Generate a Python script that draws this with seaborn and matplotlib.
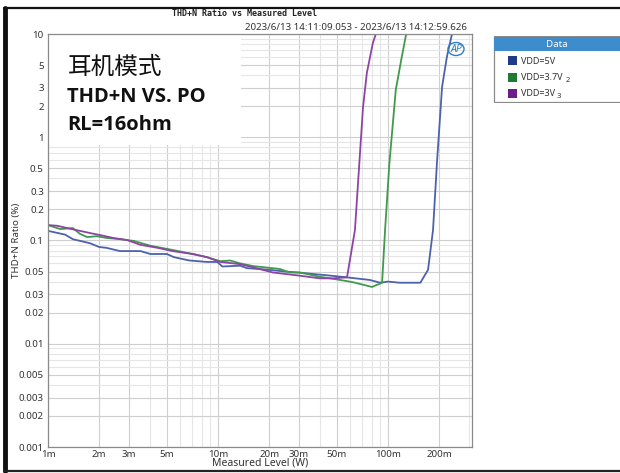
import numpy as np
import pandas as pd
import matplotlib
matplotlib.use("Agg")
import matplotlib.pyplot as plt
from matplotlib.patches import Rectangle, Ellipse
from matplotlib.lines import Line2D
from matplotlib.ticker import FixedLocator, LogLocator, NullFormatter
import seaborn as sns

# ---------------- data ----------------
series_names = ["VDD=5V", "VDD=3.7V", "VDD=3V"]
series_sub = ["", "2", "3"]
line_colors = ["#4d62aa", "#3f9a4c", "#8d44a6"]
legend_colors = ["#1d3d8a", "#1f7a32", "#6b1d8e"]

x_5v = [0.001, 0.00126, 0.0014, 0.00177, 0.002, 0.0022, 0.00265, 0.0035, 0.004, 0.005,
        0.0055, 0.0068, 0.0086, 0.0099, 0.0106, 0.0135, 0.0148, 0.020, 0.025, 0.0316,
        0.038, 0.044, 0.057, 0.078, 0.09, 0.1, 0.117, 0.155, 0.172, 0.184, 0.194,
        0.208, 0.222, 0.241]
y_5v = [0.124, 0.114, 0.103, 0.094, 0.0865, 0.085, 0.079, 0.079, 0.074, 0.074,
        0.069, 0.064, 0.062, 0.062, 0.056, 0.057, 0.054, 0.052, 0.050, 0.0485,
        0.047, 0.046, 0.044, 0.0415, 0.039, 0.040, 0.039, 0.039, 0.052, 0.126, 0.56,
        3.07, 6.0, 11.0]

x_37v = [0.001, 0.00118, 0.0014, 0.00154, 0.0017, 0.00194, 0.0022, 0.00265, 0.0032, 0.004,
         0.0054, 0.0071, 0.0086, 0.0103, 0.0118, 0.0135, 0.0161, 0.0231, 0.0264, 0.0303,
         0.0398, 0.05, 0.062, 0.0805, 0.0923, 0.0961, 0.1019, 0.1111, 0.1205, 0.1287]
y_37v = [0.141, 0.129, 0.132, 0.116, 0.108, 0.110, 0.106, 0.103, 0.099, 0.089,
         0.081, 0.074, 0.069, 0.063, 0.064, 0.060, 0.0565, 0.053, 0.049, 0.049,
         0.0445, 0.042, 0.0395, 0.0355, 0.039, 0.126, 0.56, 2.87, 6.0, 10.5]

x_3v = [0.001, 0.00113, 0.00135, 0.00154, 0.00177, 0.00202, 0.00241, 0.00292, 0.00348, 0.0044,
        0.0054, 0.0071, 0.0086, 0.0103, 0.0135, 0.0161, 0.021, 0.0291, 0.0398, 0.0475,
        0.0574, 0.0639, 0.0713, 0.0751, 0.0815, 0.0865]
y_3v = [0.141, 0.139, 0.130, 0.124, 0.118, 0.113, 0.106, 0.101, 0.091, 0.085,
        0.079, 0.074, 0.069, 0.062, 0.059, 0.055, 0.049, 0.046, 0.043, 0.043,
        0.044, 0.126, 1.96, 4.2, 8.2, 11.0]

x_ticks = [0.001, 0.002, 0.003, 0.005, 0.01, 0.02, 0.03, 0.05, 0.1, 0.2]
x_ticklabels = ["1m", "2m", "3m", "5m", "10m", "20m", "30m", "50m", "100m", "200m"]
y_ticks = [10, 5, 3, 2, 1, 0.5, 0.3, 0.2, 0.1, 0.05, 0.03, 0.02, 0.01, 0.005, 0.003, 0.002, 0.001]
y_ticklabels = ["10", "5", "3", "2", "1", "0.5", "0.3", "0.2", "0.1", "0.05", "0.03", "0.02",
                "0.01", "0.005", "0.003", "0.002", "0.001"]

title = "THD+N Ratio vs Measured Level"
subtitle = "2023/6/13 14:11:09.053 - 2023/6/13 14:12:59.626"
xlabel = "Measured Level (W)"
ylabel = "THD+N Ratio (%)"
note_lines = ["耳机模式", "THD+N VS. PO", "RL=16ohm"]

frames = []
for name, xs, ys in zip(series_names, [x_5v, x_37v, x_3v], [y_5v, y_37v, y_3v]):
    frames.append(pd.DataFrame({"level": xs, "thdn": ys, "series": name}))
df = pd.concat(frames, ignore_index=True)

# ---------------- figure ----------------
sns.set_style("white")
plt.rcParams["font.family"] = ["Noto Sans", "DejaVu Sans"]

W, H = 620, 473
fig = plt.figure(figsize=(W / 100, H / 100), dpi=100)
fig.patch.set_facecolor("white")

L, R, T, B = 48, 472, 34, 447
ax = fig.add_axes([L / W, 1 - B / H, (R - L) / W, (B - T) / H])

sns.lineplot(data=df, x="level", y="thdn", hue="series", units="series", estimator=None,
             sort=False, palette=dict(zip(series_names, line_colors)), linewidth=1.3,
             legend=False, ax=ax, zorder=3)

ax.set_xscale("log")
ax.set_yscale("log")
ax.set_xlim(0.001, 10 ** (-3 + (R - L) / 170))
ax.set_ylim(0.001, 10)

ax.xaxis.set_major_locator(FixedLocator(x_ticks))
ax.set_xticklabels(x_ticklabels)
ax.yaxis.set_major_locator(FixedLocator(y_ticks))
ax.set_yticklabels(y_ticklabels)
ax.xaxis.set_minor_locator(LogLocator(base=10, subs=np.arange(1, 10)))
ax.yaxis.set_minor_locator(LogLocator(base=10, subs=np.arange(1, 10)))
ax.xaxis.set_minor_formatter(NullFormatter())
ax.yaxis.set_minor_formatter(NullFormatter())

ax.tick_params(axis="both", which="both", length=0, labelsize=7, colors="#333333", pad=3)
ax.tick_params(axis="x", pad=2)

ax.grid(True, which="minor", color="#e6e6e6", linewidth=0.8, zorder=0)
ax.grid(True, which="major", color="#cfcfcf", linewidth=0.8, zorder=0)
ax.set_axisbelow(True)
for sp in ax.spines.values():
    sp.set_color("#8a8a8a")
    sp.set_linewidth(0.9)
    sp.set_zorder(5)

ax.set_xlabel(xlabel, fontsize=7.5, color="#333333", labelpad=-1)
ax.set_ylabel(ylabel, fontsize=7, color="#333333")
ax.yaxis.set_label_coords((21 - L) / (R - L), 0.5)

# white annotation box over the upper-left of the plot
bx0, by0, bx1, by1 = 48, 34, 241, 145
ax.add_patch(Rectangle(((bx0 - L) / (R - L), 1 - (by1 - T) / (B - T)),
                       (bx1 - bx0) / (R - L), (by1 - by0) / (B - T),
                       transform=ax.transAxes, facecolor="white", edgecolor="none", zorder=2))
fig.text(68 / W, 1 - 67 / H, note_lines[0], fontsize=17, fontweight="medium",
         family=["Noto Sans CJK SC", "DejaVu Sans"], va="center", ha="left", color="#111111")
fig.text(67 / W, 1 - 97 / H, note_lines[1], fontsize=14.5, fontweight="bold",
         family=["Open Sans", "DejaVu Sans"], va="center", ha="left", color="#111111")
fig.text(67 / W, 1 - 125 / H, note_lines[2], fontsize=14.5, fontweight="bold",
         family=["Open Sans", "DejaVu Sans"], va="center", ha="left", color="#111111")

# AP logo
fig.text(456 / W, 1 - 49 / H, "AP", fontsize=7.5, fontweight="bold", style="italic",
         color="#2a7fc8", ha="center", va="center")
fig.add_artist(Ellipse((456 / W, 1 - 49 / H), 16 / W, 13 / H, facecolor="none",
                       edgecolor="#2a7fc8", linewidth=1.0))

# titles
fig.text(245 / W, 1 - 14 / H, title, fontsize=6, fontweight="bold",
         family=["DejaVu Sans Mono"], ha="center", va="center", color="#222222")
fig.text(467 / W, 1 - 27 / H, subtitle, fontsize=7, ha="right", va="center", color="#333333")

# legend panel
lx0, ly0, lx1, ly1 = 493, 36, 622, 103
lax = fig.add_axes([lx0 / W, 1 - ly1 / H, (lx1 - lx0) / W, (ly1 - ly0) / H])
lax.set_xlim(lx0, lx1)
lax.set_ylim(ly1, ly0)
lax.axis("off")
lax.add_patch(Rectangle((lx0 + 0.5, ly0 + 0.5), lx1 - lx0, ly1 - ly0 - 1, facecolor="white",
                        edgecolor="#8a8a8a", linewidth=0.9))
lax.add_patch(Rectangle((lx0 + 1, ly0 + 1), lx1 - lx0, 14, facecolor="#3d8ccc", edgecolor="none"))
lax.text(557, ly0 + 8.5, "Data", fontsize=7, fontweight="bold", color="white", ha="center", va="center")
for i, (name, sub, col) in enumerate(zip(series_names, series_sub, legend_colors)):
    yy = 61 + i * 16.5
    lax.add_patch(Rectangle((508, yy - 4.5), 9, 9, facecolor=col, edgecolor="none"))
    lax.text(521, yy, name, fontsize=6.5, color="#333333", ha="left", va="center")
    if sub:
        tw = {"VDD=3.7V": 45, "VDD=3V": 36}.get(name, 0)
        lax.text(521 + tw, yy + 2.5, sub, fontsize=5.5, color="#333333", ha="left", va="center")

# outer frame
fig.add_artist(Line2D([5 / W, 5 / W], [1 - 8 / H, 1 - 471 / H], color="#111111", linewidth=3.5))
fig.add_artist(Line2D([4 / W, 1.0], [1 - 8 / H, 1 - 8 / H], color="#111111", linewidth=1.6))
fig.add_artist(Line2D([4 / W, 1.0], [1 - 471 / H, 1 - 471 / H], color="#222222", linewidth=1.6))

fig.savefig("out.png", dpi=100, facecolor="white")
